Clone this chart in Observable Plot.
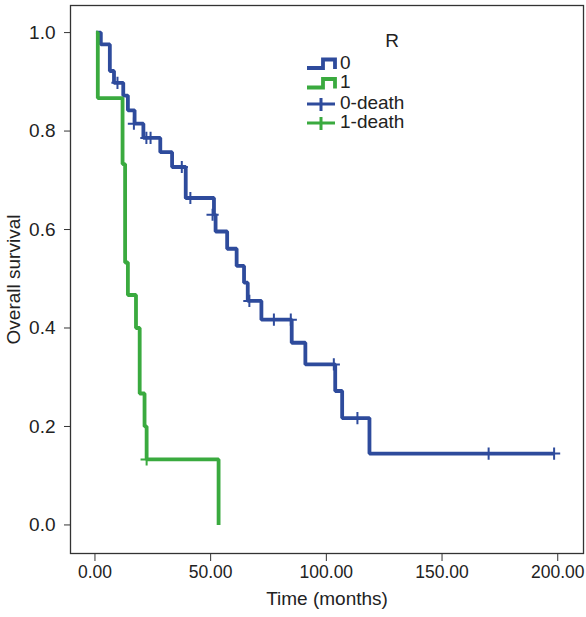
<!DOCTYPE html>
<html><head><meta charset="utf-8">
<script src="https://cdn.jsdelivr.net/npm/d3@7"></script>
<script src="https://cdn.jsdelivr.net/npm/@observablehq/plot@0.6"></script>
<style>
body{margin:0;background:#fff;}
#wrap{position:relative;width:586px;height:617px;font-family:"Liberation Sans",Arial,sans-serif;}
#wrap svg.overlay{position:absolute;left:0;top:0;}
</style></head><body><div id="wrap"></div>
<script>
// Group R = 0 (Kaplan-Meier steps)
const r0Time = [0, 2.1, 6.0, 7.8, 11.8, 13.8, 16.7, 20.5, 27.8, 32.9, 38.8, 51.0, 51.7, 56.7, 60.8, 64.0, 65.6, 71.5, 84.6, 90.5, 103.4, 106.4, 118.2, 198];
const r0Surv = [1.0, 0.976, 0.922, 0.898, 0.872, 0.842, 0.815, 0.786, 0.757, 0.727, 0.664, 0.630, 0.596, 0.561, 0.526, 0.492, 0.455, 0.417, 0.370, 0.326, 0.272, 0.217, 0.145, 0.145];
// Group R = 0 censor marks
const r0CensTime = [9.3, 16.4, 21.8, 23.6, 37.1, 40.8, 50.4, 66.3, 76.9, 84.2, 102.8, 113.0, 169.7, 198];
const r0CensSurv = [0.898, 0.815, 0.786, 0.786, 0.727, 0.664, 0.630, 0.455, 0.417, 0.417, 0.326, 0.217, 0.145, 0.145];
// Group R = 1
const r1Time = [0, 0.8, 11.5, 12.6, 13.8, 17.3, 18.9, 21.0, 21.9, 53.0];
const r1Surv = [1.0, 0.867, 0.733, 0.533, 0.467, 0.400, 0.267, 0.200, 0.133, 0.0];
const r1CensTime = [21.9];
const r1CensSurv = [0.133];

const xTicks = [0, 50, 100, 150, 200];
const yTicks = [0, 0.2, 0.4, 0.6, 0.8, 1.0];
const legendTitle = "R";
const legendLabels = ["0", "1", "0-death", "1-death"];
const colors = {"0": "#2e4b9c", "1": "#3aaa3f"};

const toRows = (ts, ss, g) => ts.map((t, i) => ({t, s: ss[i], g}));
const curves = [...toRows(r0Time, r0Surv, "0"), ...toRows(r1Time, r1Surv, "1")];
const cens = [...toRows(r0CensTime, r0CensSurv, "0"), ...toRows(r1CensTime, r1CensSurv, "1")];

const W = 586, H = 617;
const chart = Plot.plot({
  width: W, height: H,
  marginLeft: 70, marginRight: 3, marginTop: 5, marginBottom: 64,
  style: {fontFamily: "'Liberation Sans', Arial, sans-serif", fontSize: "19px", color: "#222", background: "#fff"},
  x: {domain: [-11, 210.7], ticks: xTicks, tickFormat: d3.format(".2f")},
  y: {domain: [-0.058, 1.055], ticks: yTicks, tickFormat: d3.format(".1f")},
  color: {domain: ["0", "1"], range: [colors["0"], colors["1"]]},
  marks: [
    Plot.frame({stroke: "#333", strokeWidth: 1.3}),
    Plot.axisX({ticks: xTicks, tickFormat: d3.format(".2f"), tickSize: 8, tickPadding: 4, fontSize: 17.5, dx: -1, label: null, stroke: "#333"}),
    Plot.axisX({ticks: [], label: "Time (months)", labelAnchor: "center", labelOffset: 51, labelArrow: "none", tickSize: 0}),
    Plot.axisY({ticks: yTicks, tickFormat: d3.format(".1f"), tickSize: 6, tickPadding: 9, label: "Overall survival", labelAnchor: "center", labelOffset: 64, labelArrow: "none", stroke: "#333"}),
    Plot.line(curves, {x: "t", y: "s", z: "g", stroke: "g", curve: "step-after", strokeWidth: 3.8, strokeLinejoin: "miter", strokeLinecap: "butt"}),
    Plot.dot(cens, {x: "t", y: "s", stroke: "g", symbol: "plus", r: 4, strokeWidth: 2})
  ]
});
const wrap = document.getElementById("wrap");
wrap.appendChild(chart);

// Legend overlay
const svg = d3.select(wrap).append("svg").attr("class", "overlay").attr("width", W).attr("height", H)
  .style("font-family", "'Liberation Sans', Arial, sans-serif").style("font-size", "19px");
svg.append("text").attr("x", 392).attr("y", 40).attr("text-anchor", "middle").attr("dominant-baseline", "central").attr("fill", "#222").text(legendTitle);
const rows = [62, 81.5, 102, 121];
const lcol = [colors["0"], colors["1"], colors["0"], colors["1"]];
legendLabels.forEach((lab, i) => {
  const y = rows[i];
  if (i < 2) {
    svg.append("path").attr("d", `M307,${y+6}H323V${y-2.5}H335V${y+7}`).attr("fill", "none").attr("stroke", lcol[i]).attr("stroke-width", 3.8);
  } else {
    svg.append("path").attr("d", `M307,${y+2}H335M321,${y-4}V${y+9}`).attr("fill", "none").attr("stroke", lcol[i]).attr("stroke-width", 3);
  }
  svg.append("text").attr("x", 340).attr("y", y).attr("dominant-baseline", "central").attr("fill", "#222").text(lab);
});
</script></body></html>
